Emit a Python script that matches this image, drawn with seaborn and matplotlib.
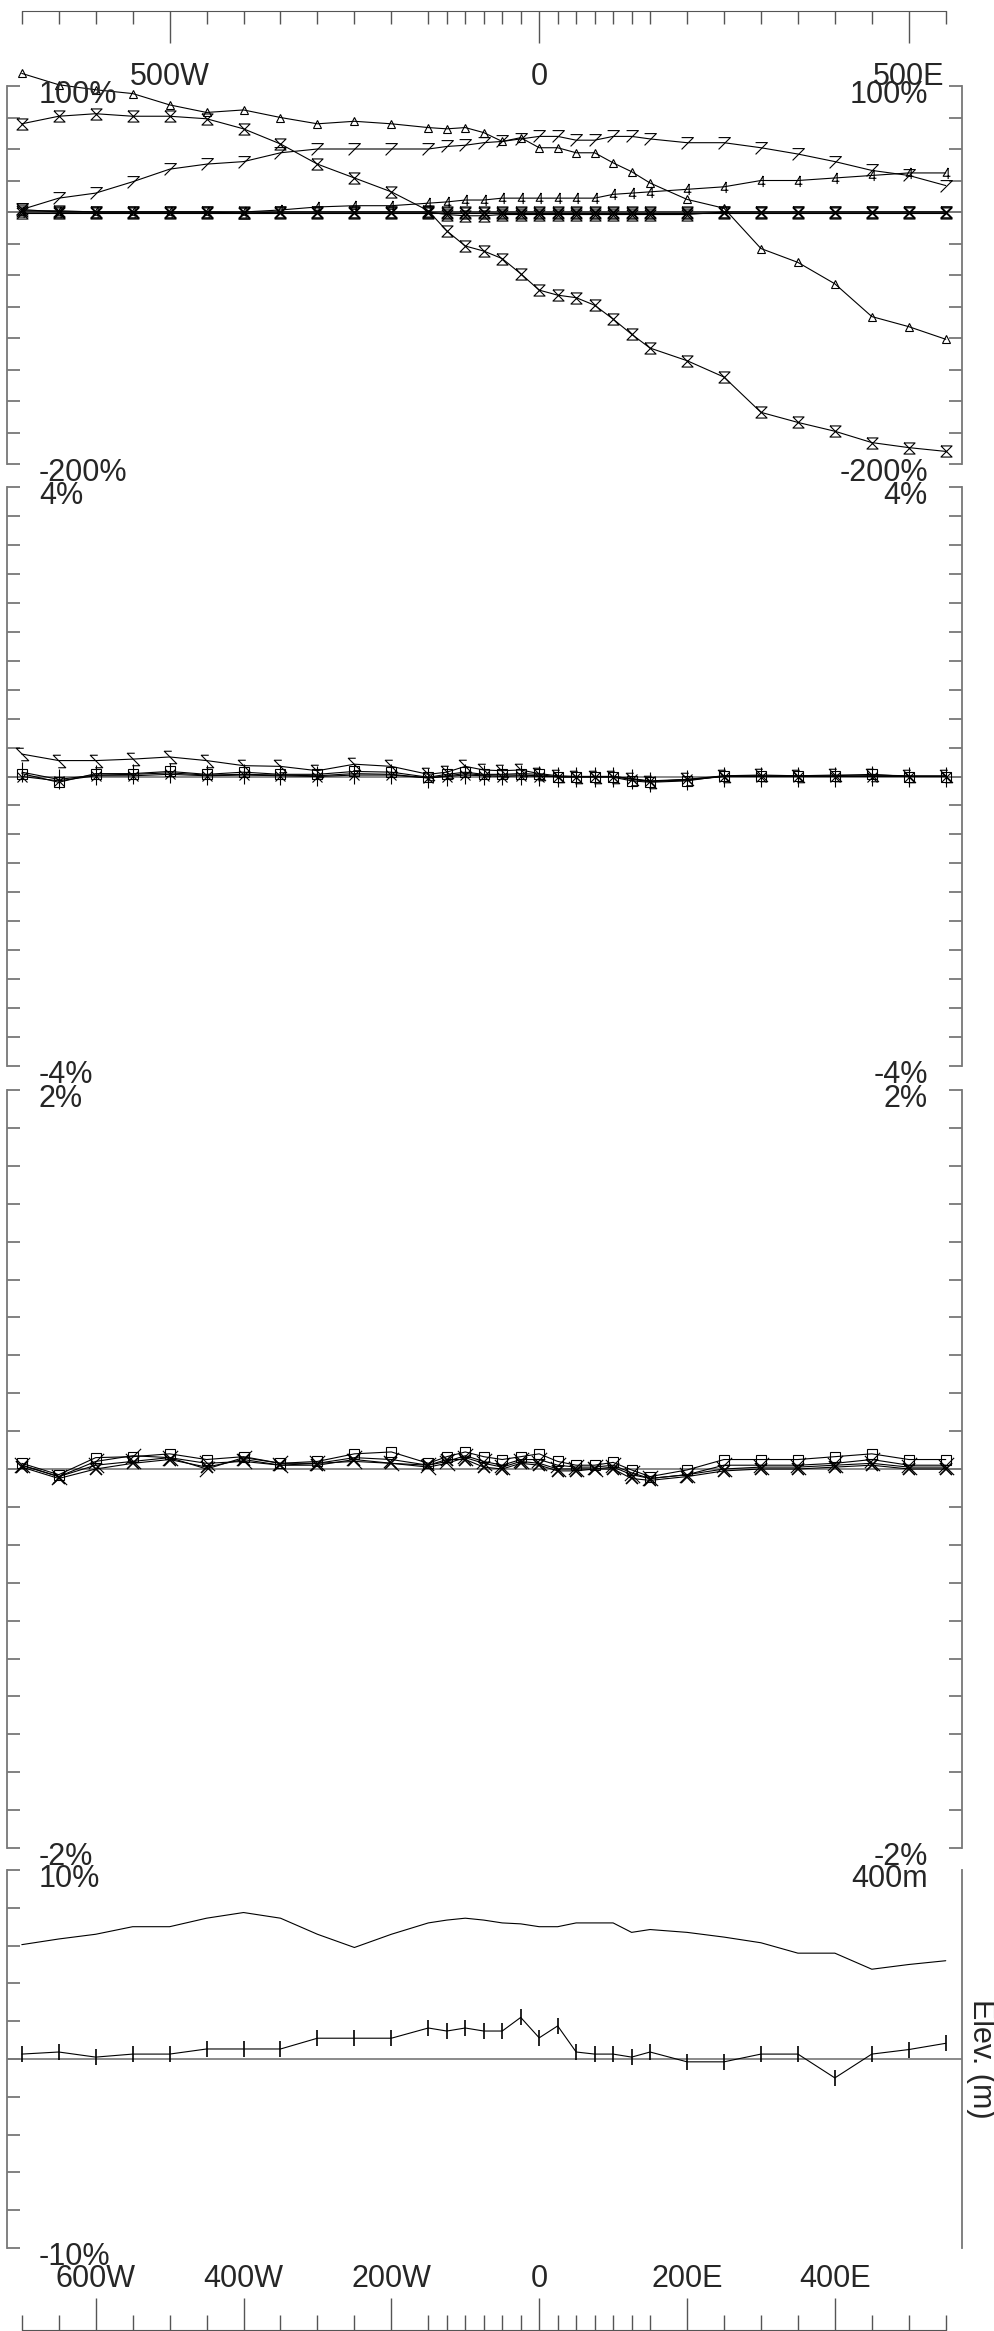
import numpy as np
import seaborn as sns
import matplotlib.pyplot as plt
from matplotlib.path import Path

# survey stations (m, negative = W)
stations = [-700, -650, -600, -550, -500, -450, -400, -350, -300, -250, -200, -150, -125, -100,
            -75, -50, -25, 0, 25, 50, 75, 100, 125, 150, 200, 250, 300, 350, 400, 450, 500, 550]

# panel 1 (%)
p1_tri = [110, 101, 97, 94, 85, 79, 81, 75, 70, 72, 70, 67, 66, 67, 63, 56, 59, 51, 51, 47,
          47, 39, 32, 23, 10, 3, -29, -40, -57, -83, -91, -101]
p1_hour = [70, 76, 78, 76, 76, 74, 66, 54, 38, 27, 16, 1, -15, -27, -31, -37, -49, -62, -66, -68,
           -74, -85, -97, -108, -118, -131, -159, -167, -174, -183, -187, -190]
p1_seven = [2, 11, 15, 24, 34, 38, 40, 47, 50, 50, 50, 50, 52, 53, 55, 56, 58, 60, 60, 57,
            57, 60, 60, 58, 55, 55, 51, 46, 40, 33, 29, 21]
p1_four = [0, 0, 0, 0, 0, 0, 0, 1.6, 4, 5, 5, 7, 8, 9.5, 9.5, 11, 11, 11, 11, 11,
           11, 14, 15, 16, 18, 20, 25, 25, 27, 29, 31, 31]
p1_flat_a = [1, 1, 0, 0, 0, 0, -1, 0, 0, 0, 0, 0, 0, 0, 0, 0, 0, 0, 0, 0,
             0, 0, 0, 0, 0, 0, 0, 0, 0, 0, 0, 0]
p1_flat_b = [2, 0, 0, 0, 0, 0, 0, 0, 0, 0, 0, 0, -2, -3, -3, -2, -2, -2, -2, -2,
             -2, -2, -2, -2, -2, 0, 0, 0, 0, 0, 0, 0]
p1_flat_c = [-1, -1, -1, -1, -1, -1, -1, -1, -1, -1, -1, -1, -1, -1, -1, -1, -1, -1, -1, -1,
             -1, -1, -1, -1, -1, -1, -1, -1, -1, -1, -1, -1]

# panel 2 (%)
p2_z = [0.31, 0.22, 0.22, 0.24, 0.27, 0.22, 0.15, 0.14, 0.08, 0.17, 0.14, 0.03, 0.06, 0.14, 0.09, 0.08,
        0.09, 0.04, 0.01, 0.0, 0.0, 0.0, -0.03, -0.07, -0.04, 0.01, 0.02, 0.01, 0.02, 0.02, 0.01, 0.01]
p2_sq = [0.04, -0.08, 0.04, 0.04, 0.07, 0.03, 0.06, 0.03, 0.03, 0.07, 0.06, -0.01, 0.03, 0.06, 0.03, 0.03,
         0.04, 0.03, -0.01, -0.01, -0.01, -0.01, -0.06, -0.08, -0.06, 0.01, 0.01, 0.01, 0.01, 0.03, 0.0, 0.0]
p2_bar = [0.06, -0.04, 0.02, 0.03, 0.05, 0.02, 0.03, 0.02, 0.01, 0.04, 0.03, -0.02, 0.01, 0.04, 0.02, 0.02,
          0.02, 0.01, 0.0, 0.0, 0.0, 0.0, -0.04, -0.07, -0.05, 0.0, 0.0, 0.0, 0.0, 0.01, 0.0, 0.0]
p2_x = [0.0, -0.06, 0.01, 0.01, 0.03, 0.01, 0.02, 0.01, 0.0, 0.02, 0.02, -0.02, 0.0, 0.02, 0.01, 0.0,
        0.01, 0.0, 0.0, 0.0, 0.0, 0.0, -0.03, -0.06, -0.04, 0.0, 0.0, 0.0, 0.0, 0.0, 0.0, 0.0]

# panel 3 (%)
p3_sq = [0.03, -0.03, 0.06, 0.065, 0.08, 0.05, 0.065, 0.03, 0.04, 0.08, 0.09, 0.03, 0.065, 0.09, 0.065, 0.05,
         0.065, 0.08, 0.04, 0.02, 0.02, 0.035, -0.005, -0.04, -0.005, 0.05, 0.05, 0.05, 0.065, 0.08, 0.05, 0.05]
p3_fwd = [0.02, -0.04, 0.04, 0.07, 0.06, 0.0, 0.06, 0.03, 0.03, 0.06, 0.05, 0.02, 0.04, 0.07, 0.04, 0.02,
          0.05, 0.05, 0.02, 0.01, 0.01, 0.02, -0.02, -0.05, -0.03, 0.02, 0.02, 0.02, 0.03, 0.05, 0.02, 0.02]
p3_back = [0.02, -0.04, 0.02, 0.04, 0.06, 0.03, 0.04, 0.02, 0.03, 0.04, 0.03, 0.01, 0.03, 0.06, 0.03, 0.01,
           0.04, 0.03, 0.0, 0.0, 0.0, 0.01, -0.03, -0.05, -0.03, 0.0, 0.01, 0.01, 0.02, 0.03, 0.01, 0.01]
p3_x = [0.01, -0.05, 0.0, 0.03, 0.05, 0.01, 0.05, 0.02, 0.02, 0.05, 0.03, 0.02, 0.05, 0.05, 0.01, 0.0,
        0.03, 0.02, -0.01, -0.01, 0.0, 0.0, -0.05, -0.06, -0.04, -0.01, 0.0, 0.0, 0.01, 0.02, 0.0, 0.0]

# panel 4 (% and elevation in m)
p4_bar = [0.26, 0.37, 0.1, 0.26, 0.26, 0.53, 0.53, 0.53, 1.1, 1.1, 1.1, 1.64, 1.48, 1.64, 1.48, 1.48,
          2.2, 1.12, 1.75, 0.37, 0.26, 0.26, 0.1, 0.37, -0.15, -0.15, 0.26, 0.26, -1.0, 0.26, 0.5, 0.83]
elev = [321, 327, 332, 340, 340, 349, 355, 349, 332, 318, 332, 344, 347, 349, 347, 344,
        343, 340, 340, 344, 344, 344, 334, 337, 334, 329, 323, 312, 312, 295, 300, 304]

top_ticks = [-500, 0, 500]
top_labels = ['500W', '0', '500E']
bot_ticks = [-600, -400, -200, 0, 200, 400]
bot_labels = ['600W', '400W', '200W', '0', '200E', '400E']

sns.set_style('white')
plt.rcParams['font.family'] = ['Liberation Sans', 'DejaVu Sans']

W, H = 995, 2331
XMIN, XMAX = -720, 572
GREY = '#777777'
FS = 22

fig = plt.figure(figsize=(W / 100, H / 100), dpi=100)


def box(top, bottom, left=7, right=962):
    return [left / W, 1 - bottom / H, (right - left) / W, (bottom - top) / H]


# marker shapes
hourglass = Path([(-1, 1), (1, 1), (-1, -1), (1, -1), (-1, 1)])
seven = Path([(-1, 1), (1, 1), (-1, -1)])
four = Path([(0.3, 1), (-0.6, -0.5), (0.7, -0.5), (0.3, 1), (0.3, -1)],
            [Path.MOVETO, Path.LINETO, Path.LINETO, Path.MOVETO, Path.LINETO])
zed = Path([(0.2, 1), (-1, 1), (1, -1), (-0.2, -1)])
fwd = Path([(-1, -1), (1, 1)])
back = Path([(-1, 1), (1, -1)])


def draw(ax, values, marker, ms=8, mew=0.8):
    sns.lineplot(x=stations, y=values, ax=ax, color='k', lw=0.8, marker=marker,
                 markersize=ms, mec='k', mfc='none', mew=mew, clip_on=False)


def style_panel(ax, lo, hi, n):
    ax.set_xlim(XMIN, XMAX)
    ax.set_ylim(lo, hi)
    ax.set_yticks(np.linspace(lo, hi, n + 1))
    ax.set_xticks([])
    ax.set_xlabel('')
    ax.set_ylabel('')
    for s in ['top', 'bottom']:
        ax.spines[s].set_visible(False)
    for s in ['left', 'right']:
        ax.spines[s].set_visible(True)
        ax.spines[s].set_color(GREY)
        ax.spines[s].set_linewidth(1.3)
    ax.tick_params(axis='y', direction='in', left=True, right=True, length=9.5, width=1.3,
                   color=GREY, labelleft=False, labelright=False)
    ax.axhline(0, color=GREY, lw=1.2, zorder=1)
    ax.patch.set_visible(False)


def edge_label(ax, y, text, side):
    tr = ax.get_yaxis_transform()
    if side == 'left':
        ax.annotate(text, xy=(0, y), xycoords=tr, xytext=(23, 4.5), textcoords='offset points',
                    ha='left', va='top', fontsize=FS, annotation_clip=False)
    else:
        ax.annotate(text, xy=(1, y), xycoords=tr, xytext=(-24.5, 4.5), textcoords='offset points',
                    ha='right', va='top', fontsize=FS, annotation_clip=False)


# panel 1
ax1 = fig.add_axes(box(86, 464))
draw(ax1, p1_flat_c, hourglass)
draw(ax1, p1_flat_b, hourglass)
draw(ax1, p1_flat_a, hourglass)
draw(ax1, p1_four, four, ms=8)
draw(ax1, p1_seven, seven, ms=8.5)
draw(ax1, p1_hour, hourglass)
draw(ax1, p1_tri, '^', ms=6)
style_panel(ax1, -200, 100, 12)
for side in ['left', 'right']:
    edge_label(ax1, 100, '100%', side)
    edge_label(ax1, -200, '-200%', side)

# panel 2
ax2 = fig.add_axes(box(487, 1066))
draw(ax2, p2_x, 'x', ms=7)
draw(ax2, p2_bar, '|', ms=14)
draw(ax2, p2_sq, 's', ms=7)
draw(ax2, p2_z, zed, ms=9)
style_panel(ax2, -4, 4, 20)
for side in ['left', 'right']:
    edge_label(ax2, 4, '4%', side)
    edge_label(ax2, -4, '-4%', side)

# panel 3
ax3 = fig.add_axes(box(1090, 1848))
draw(ax3, p3_x, 'x', ms=9, mew=1.2)
draw(ax3, p3_back, back, ms=11)
draw(ax3, p3_fwd, fwd, ms=11)
draw(ax3, p3_sq, 's', ms=7)
style_panel(ax3, -2, 2, 20)
for side in ['left', 'right']:
    edge_label(ax3, 2, '2%', side)
    edge_label(ax3, -2, '-2%', side)

# panel 4
ax4 = fig.add_axes(box(1870, 2248))
draw(ax4, p4_bar, '|', ms=12, mew=1.2)
style_panel(ax4, -10, 10, 10)
edge_label(ax4, 10, '10%', 'left')
edge_label(ax4, -10, '-10%', 'left')
edge_label(ax4, 10, '400m', 'right')

ax4b = ax4.twinx()
sns.lineplot(x=stations, y=elev, ax=ax4b, color='k', lw=0.8)
ax4b.set_xlim(XMIN, XMAX)
ax4b.set_ylim(0, 400)
for s in ax4b.spines.values():
    s.set_visible(False)
ax4b.tick_params(axis='y', right=False, labelright=False)
ax4b.set_ylabel('Elev. (m)', rotation=-90, va='bottom', fontsize=FS, labelpad=3)

# station axis along the top
ax_top = fig.add_axes(box(11, 62))
ax_top.set_xlim(XMIN, XMAX)
ax_top.set_yticks([])
for s in ['left', 'right', 'bottom']:
    ax_top.spines[s].set_visible(False)
ax_top.spines['top'].set_color('#555555')
ax_top.spines['top'].set_bounds(stations[0], stations[-1])
ax_top.set_xticks(stations, minor=True)
ax_top.set_xticks(top_ticks, labels=top_labels)
ax_top.tick_params(axis='x', which='both', direction='in', top=True, bottom=False,
                   labeltop=False, labelbottom=True, color='#555555', width=1)
ax_top.tick_params(axis='x', which='major', length=23, labelsize=FS, pad=0)
ax_top.tick_params(axis='x', which='minor', length=9.5)
ax_top.patch.set_visible(False)

# station axis along the bottom
ax_bot = fig.add_axes(box(2297, 2330))
ax_bot.set_xlim(XMIN, XMAX)
ax_bot.set_yticks([])
for s in ['left', 'right', 'top']:
    ax_bot.spines[s].set_visible(False)
ax_bot.spines['bottom'].set_color('#555555')
ax_bot.spines['bottom'].set_bounds(stations[0], stations[-1])
ax_bot.set_xticks(stations, minor=True)
ax_bot.set_xticks(bot_ticks, labels=bot_labels)
ax_bot.tick_params(axis='x', which='both', direction='in', top=False, bottom=True,
                   labeltop=True, labelbottom=False, color='#555555', width=1)
ax_bot.tick_params(axis='x', which='major', length=23, labelsize=FS, pad=2)
ax_bot.tick_params(axis='x', which='minor', length=11)
ax_bot.patch.set_visible(False)

fig.savefig('out.png', dpi=100)
